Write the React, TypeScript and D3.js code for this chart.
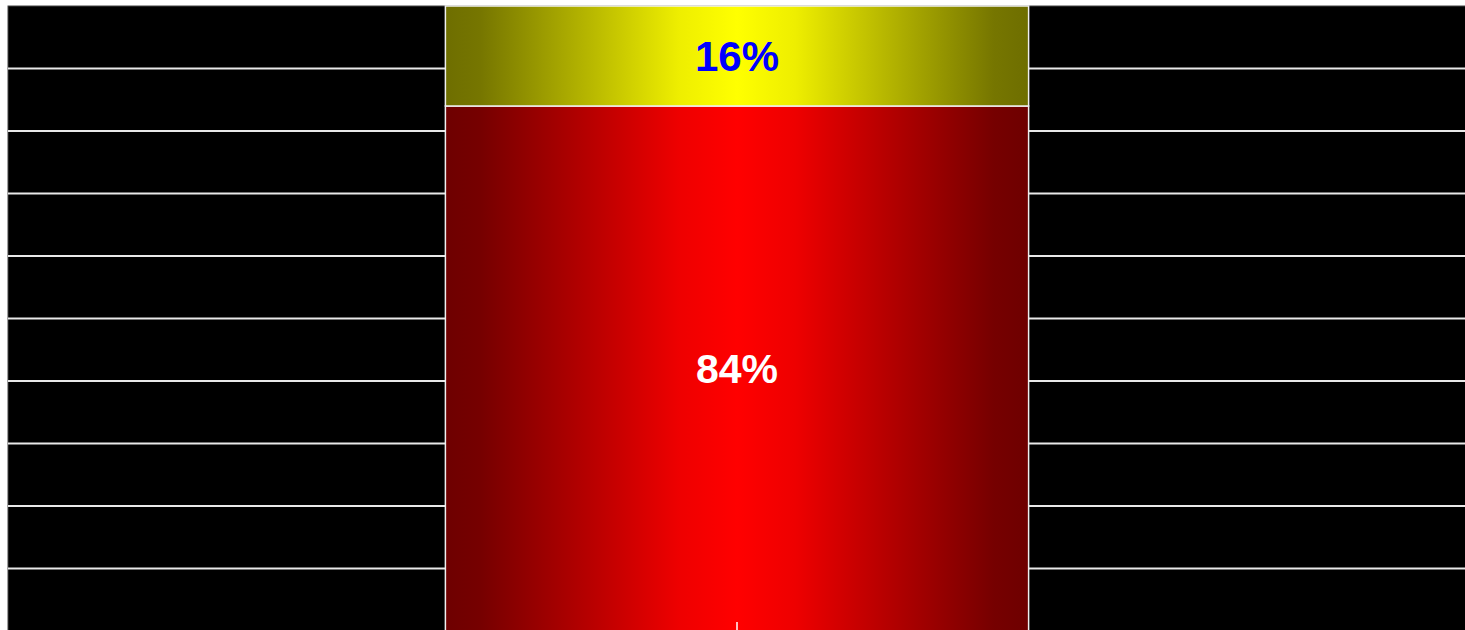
import React from "react";
import * as d3 from "d3";

const categories = ["A"];
const seriesNames = ["Red", "Yellow"];
const redValues = [84];
const yellowValues = [16];
const yTicks = [0, 10, 20, 30, 40, 50, 60, 70, 80, 90, 100];

const W = 1465;
const H = 630;
const left = 8;
const right = 1466;
const top = 6;
const bottom = 631;

const redStops = [
  [0, "#6e0000"], [0.06, "#760000"], [0.25, "#b80000"], [0.4, "#ee0000"], [0.5, "#ff0000"],
  [0.6, "#ee0000"], [0.75, "#b80000"], [0.94, "#760000"], [1, "#6e0000"],
];
const yellowStops = [
  [0, "#6e6e00"], [0.06, "#767600"], [0.25, "#b8b800"], [0.4, "#eeee00"], [0.5, "#ffff00"],
  [0.6, "#eeee00"], [0.75, "#b8b800"], [0.94, "#767600"], [1, "#6e6e00"],
];

export default function App() {
  const x = d3
    .scaleBand<string>()
    .domain(categories)
    .range([left, right])
    .paddingInner(0)
    .paddingOuter(0.75);
  const y = d3.scaleLinear().domain([0, 100]).range([bottom, top]);

  const rows = categories.map((c, i) => ({
    cat: c,
    red: redValues[i],
    yellow: yellowValues[i],
  }));
  const stack = d3.stack<any>().keys(["red", "yellow"])(rows);
  const fills = ["url(#gRed)", "url(#gYellow)"];
  const labelColors = ["#ffffff", "#0000ff"];
  const labelSizes = [41, 42];

  return (
    <svg
      width={W}
      height={H}
      style={{ position: "absolute", left: 0, top: 0, background: "#ffffff" }}
    >
      <defs>
        <linearGradient id="gRed" x1="0" x2="1" y1="0" y2="0">
          {redStops.map(([o, c]) => (
            <stop key={String(o)} offset={o as number} stopColor={c as string} />
          ))}
        </linearGradient>
        <linearGradient id="gYellow" x1="0" x2="1" y1="0" y2="0">
          {yellowStops.map(([o, c]) => (
            <stop key={String(o)} offset={o as number} stopColor={c as string} />
          ))}
        </linearGradient>
      </defs>
      <rect x={left} y={top} width={right - left} height={bottom - top} fill="#000000" stroke="#444" strokeWidth={1} />
      {yTicks.slice(1, -1).map((t) => (
        <line key={t} x1={left} x2={right} y1={y(t)} y2={y(t)} stroke="#e8e8e8" strokeWidth={2} />
      ))}
      {stack.map((s, si) =>
        s.map((d, i) => {
          const x0 = x(rows[i].cat)!;
          const bw = x.bandwidth();
          const y0 = y(d[1]);
          const y1 = y(d[0]);
          return (
            <g key={seriesNames[si] + i}>
              <rect
                x={x0}
                y={y0}
                width={bw}
                height={y1 - y0}
                fill={fills[si]}
                stroke="#f0f0f0"
                strokeWidth={1.5}
              />
              <text
                x={x0 + bw / 2}
                y={(y0 + y1) / 2}
                textAnchor="middle"
                dominantBaseline="central"
                fill={labelColors[si]}
                fontFamily="'Liberation Sans', Arial, sans-serif"
                fontWeight="bold"
                fontSize={labelSizes[si]}
              >
                {`${d[1] - d[0]}%`}
              </text>
            </g>
          );
        })
      )}
      {categories.map((c) => (
        <line
          key={c}
          x1={x(c)! + x.bandwidth() / 2}
          x2={x(c)! + x.bandwidth() / 2}
          y1={bottom - 9}
          y2={bottom}
          stroke="#ffffff"
          strokeWidth={1.5}
        />
      ))}
    </svg>
  );
}
